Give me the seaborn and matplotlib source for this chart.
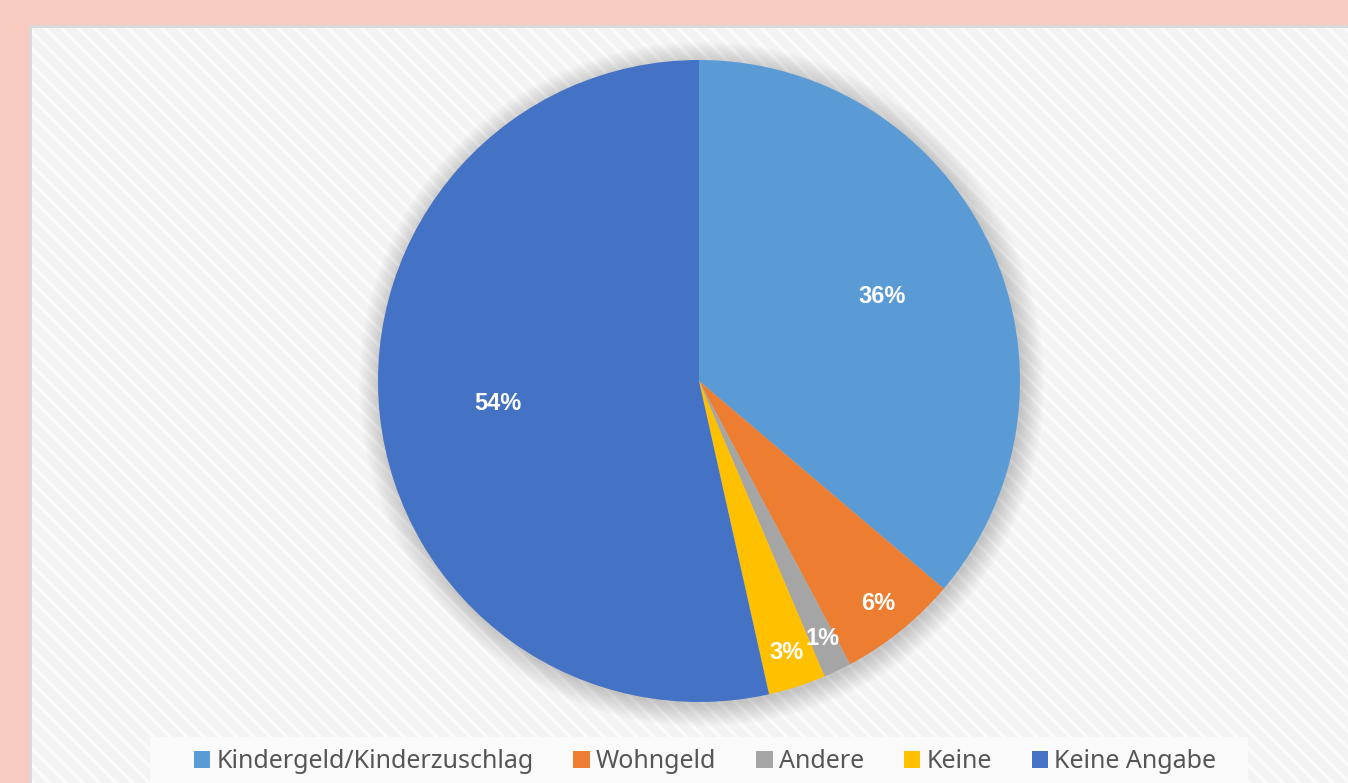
import numpy as np
import matplotlib
matplotlib.use("Agg")
import matplotlib.pyplot as plt
import seaborn as sns
from matplotlib.patches import Rectangle, Circle

labels = ["Kindergeld/Kinderzuschlag", "Wohngeld", "Andere", "Keine", "Keine Angabe"]
shares = [36.2, 6.0, 1.4, 2.9, 53.5]
pct_text = ["36%", "6%", "1%", "3%", "54%"]
colors = ["#5B9BD5", "#ED7D31", "#A5A5A5", "#FFC000", "#4472C4"]

sns.set_theme(style="white")
plt.rcParams["font.family"] = ["Liberation Sans", "DejaVu Sans"]
plt.rcParams["hatch.linewidth"] = 2.5

W, H = 1348, 783
fig = plt.figure(figsize=(W / 100, H / 100), dpi=100)
fig.patch.set_facecolor("#F9CBC0")

# background panel with faint diagonal stripes
bg = fig.add_axes([0, 0, 1, 1])
bg.set_xlim(0, W)
bg.set_ylim(H, 0)
bg.axis("off")
bg.add_patch(Rectangle((29, 25), W, H, facecolor="#D9D9D9", edgecolor="none"))
bg.add_patch(Rectangle((32, 28), W, H, facecolor="#F3F3F3", edgecolor="none"))
bg.add_patch(Rectangle((32, 28), W, H, facecolor="none", edgecolor="#FBFBFB",
                       hatch="\\\\", linewidth=0))
bg.add_patch(Rectangle((150, 737), 1098, 60, facecolor="#FAFAFA", edgecolor="none"))

# pie
cx, cy, r = 699, 381, 321
ax = fig.add_axes([(cx - r) / W, (H - cy - r) / H, 2 * r / W, 2 * r / H])
ax.set_xlim(-1, 1)
ax.set_ylim(-1, 1)
ax.axis("off")
for k in range(16):
    ax.add_patch(Circle((0.008, -0.010), 1.0 + k * 0.0045, facecolor="black",
                        alpha=0.011, edgecolor="none", zorder=0, clip_on=False))

wedges, _ = ax.pie(shares, colors=colors, startangle=90, counterclock=False,
                   radius=1, wedgeprops=dict(linewidth=0), frame=False)
ax.set_xlim(-1, 1)
ax.set_ylim(-1, 1)

for w, t, s in zip(wedges, pct_text, shares):
    mid = np.deg2rad((w.theta1 + w.theta2) / 2)
    d = 0.63 if s > 10 else 0.89
    ax.text(d * np.cos(mid), d * np.sin(mid), t, ha="center", va="center",
            color="white", fontsize=17, fontweight="bold", zorder=5)

handles = [Rectangle((0, 0), 1, 1, facecolor=c, edgecolor="none") for c in colors]
leg = fig.legend(handles, labels, loc="center", bbox_to_anchor=(705 / W, 1 - 762 / H),
                 ncol=5, frameon=False, handlelength=0.65, handleheight=0.65,
                 handletextpad=0.25, columnspacing=1.6,
                 prop={"family": ["Noto Sans", "DejaVu Sans"], "size": 18})
for t in leg.get_texts():
    t.set_color("#555555")

fig.savefig("out.png", dpi=100)
